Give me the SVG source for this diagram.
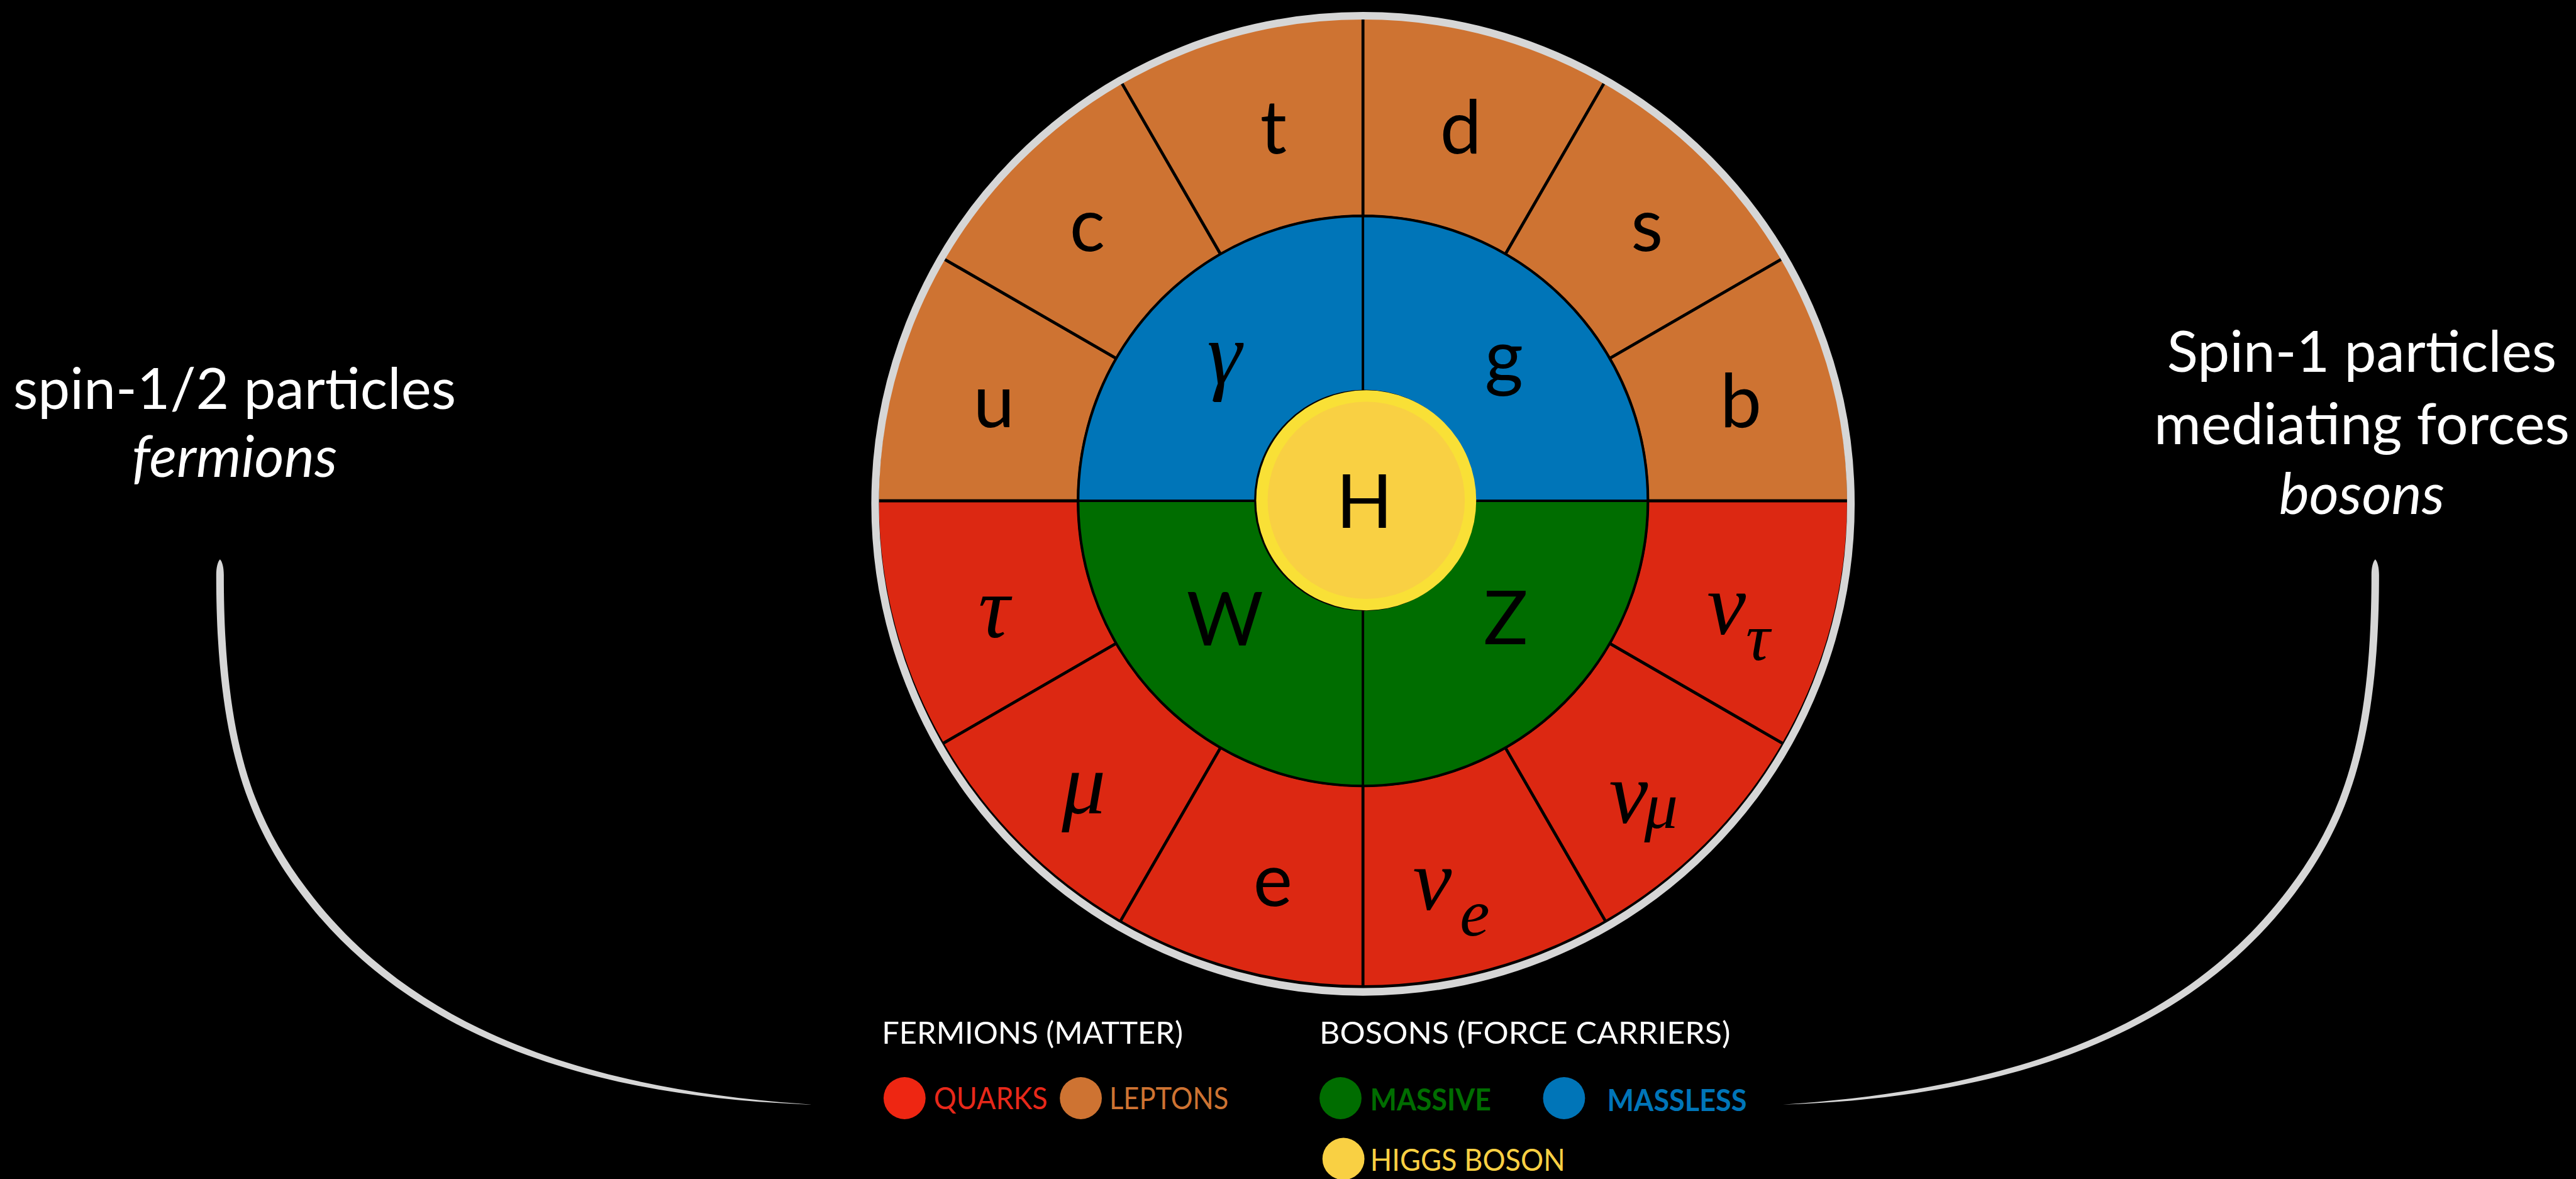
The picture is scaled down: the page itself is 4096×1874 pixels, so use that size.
<svg xmlns="http://www.w3.org/2000/svg" width="4096" height="1874" viewBox="0 0 4096 1874">
<style>
.lat{font-family:Lato,"Open Sans","Liberation Sans",sans-serif;font-size:127px;fill:#000;text-anchor:middle}
.grk{font-family:"Liberation Serif","DejaVu Serif",serif;font-style:italic;font-size:150px;fill:#000;text-anchor:middle}
.nu{font-family:"Liberation Serif","DejaVu Serif",serif;font-style:italic;font-size:150px;fill:#000}
.side{font-family:Lato,"Open Sans","Liberation Sans",sans-serif;font-size:98px;fill:#fff;text-anchor:middle}
.it{font-style:italic}
.leg{font-family:Lato,"Open Sans","Liberation Sans",sans-serif;font-size:52px}
.q{fill:#CE7332;stroke:#000;stroke-width:5}
.l{fill:#DC2812;stroke:#000;stroke-width:5}
.bl{fill:#0075B8;stroke:#000;stroke-width:4}
.gr{fill:#006D00;stroke:#000;stroke-width:4}
.brush{fill:#D6D6D6}
</style>
<rect x="0" y="0" width="4096" height="1874" fill="#000"/>
<g transform="scale(0.92796)">
<g id="connectors">
<path id="curve-left" class="brush" d="M377,958 C373,962 370.5,972 370.5,985 C370.5,1272 424.8,1410 514.8,1530 C706.8,1786 1034.7,1881 1392,1892 C1035.3,1868 717.2,1778 525.2,1522 C435.2,1402 383.5,1272 383.5,985 C383.5,972 381,962 377,958 Z"/>
<path id="curve-right" class="brush" transform="matrix(-1 0 0 1 4447 0)" d="M377,958 C373,962 370.5,972 370.5,985 C370.5,1272 424.8,1410 514.8,1530 C706.8,1786 1034.7,1881 1392,1892 C1035.3,1868 717.2,1778 525.2,1522 C435.2,1402 383.5,1272 383.5,985 C383.5,972 381,962 377,958 Z"/>
</g>
<g id="wheel">
<g id="sector-u"><path class="q" d="M1615,442 A832,832 0 0 0 1503.5,858 L1847.5,858 A488,488 0 0 1 1912.9,614 Z"/><text class="lat" x="1703" y="732">u</text></g>
<g id="sector-c"><path class="q" d="M1919.5,137.5 A832,832 0 0 0 1615,442 L1912.9,614 A488,488 0 0 1 2091.5,435.4 Z"/><text class="lat" x="1863" y="430">c</text></g>
<g id="sector-t"><path class="q" d="M2335.5,26 A832,832 0 0 0 1919.5,137.5 L2091.5,435.4 A488,488 0 0 1 2335.5,370 Z"/><text class="lat" x="2182" y="263">t</text></g>
<g id="sector-d"><path class="q" d="M2751.5,137.5 A832,832 0 0 0 2335.5,26 L2335.5,370 A488,488 0 0 1 2579.5,435.4 Z"/><text class="lat" x="2503" y="263">d</text></g>
<g id="sector-s"><path class="q" d="M3056,442 A832,832 0 0 0 2751.5,137.5 L2579.5,435.4 A488,488 0 0 1 2758.1,614 Z"/><text class="lat" x="2822" y="430">s</text></g>
<g id="sector-b"><path class="q" d="M3167.5,858 A832,832 0 0 0 3056,442 L2758.1,614 A488,488 0 0 1 2823.5,858 Z"/><text class="lat" x="2983" y="732">b</text></g>
<g id="sector-tau"><path class="l" d="M1503.5,858 A832,832 0 0 0 1615,1274 L1912.9,1102 A488,488 0 0 1 1847.5,858 Z"/><text class="grk" x="1703" y="1092">τ</text></g>
<g id="sector-mu"><path class="l" d="M1615,1274 A832,832 0 0 0 1919.5,1578.5 L2091.5,1280.6 A488,488 0 0 1 1912.9,1102 Z"/><text class="grk" x="1857" y="1393">μ</text></g>
<g id="sector-e"><path class="l" d="M1919.5,1578.5 A832,832 0 0 0 2335.5,1690 L2335.5,1346 A488,488 0 0 1 2091.5,1280.6 Z"/><text class="lat" x="2181" y="1552">e</text></g>
<g id="sector-nu-e"><path class="l" d="M2335.5,1690 A832,832 0 0 0 2751.5,1578.5 L2579.5,1280.6 A488,488 0 0 1 2335.5,1346 Z"/><text class="nu" x="2421" y="1558">ν<tspan dx="14" dy="44" font-size="115">e</tspan></text></g>
<g id="sector-nu-mu"><path class="l" d="M2751.5,1578.5 A832,832 0 0 0 3056,1274 L2758.1,1102 A488,488 0 0 1 2579.5,1280.6 Z"/><text class="nu" x="2757" y="1410">ν<tspan dx="-6" dy="8" font-size="115">μ</tspan></text></g>
<g id="sector-nu-tau"><path class="l" d="M3056,1274 A832,832 0 0 0 3167.5,858 L2823.5,858 A488,488 0 0 1 2758.1,1102 Z"/><text class="nu" x="2925" y="1086">ν<tspan dx="0" dy="44" font-size="115">τ</tspan></text></g>
<g id="boson-photon"><path class="bl" d="M2335.5,858 L2335.5,370 A488,488 0 0 0 1847.5,858 Z"/><text class="grk" x="2098" y="656">γ</text></g>
<g id="boson-gluon"><path class="bl" d="M2335.5,858 L2823.5,858 A488,488 0 0 0 2335.5,370 Z"/><text class="lat" x="2577" y="655">g</text></g>
<g id="boson-W"><path class="gr" d="M2335.5,858 L1847.5,858 A488,488 0 0 0 2335.5,1346 Z"/><text class="lat" x="2099" y="1106">W</text></g>
<g id="boson-Z"><path class="gr" d="M2335.5,858 L2335.5,1346 A488,488 0 0 0 2823.5,858 Z"/><text class="lat" x="2580" y="1103">Z</text></g>
<circle id="rim" cx="2335.5" cy="863" r="836" fill="none" stroke="#D6D6D6" stroke-width="13"/>
<g id="higgs">
<circle cx="2338.5" cy="857" r="189.5" fill="#000"/>
<circle cx="2341" cy="857" r="188.5" fill="#F9E036"/>
<circle cx="2341" cy="857" r="169" fill="#F9D043"/>
<text class="lat" x="2338" y="904">H</text>
</g>
</g>
<g id="label-fermions">
<text class="side" x="402" y="700">spin-1/2 particles</text>
<text class="side it" x="402" y="817">fermions</text>
</g>
<g id="label-bosons">
<text class="side" x="4047" y="637">Spin-1 particles</text>
<text class="side" x="4047" y="761">mediating forces</text>
<text class="side it" x="4047" y="880">bosons</text>
</g>
<g id="legend">
<text class="leg" x="1511" y="1788" fill="#fff" textLength="516" lengthAdjust="spacingAndGlyphs">FERMIONS (MATTER)</text>
<text class="leg" x="2261" y="1788" fill="#fff" textLength="704" lengthAdjust="spacingAndGlyphs">BOSONS (FORCE CARRIERS)</text>
<g id="legend-quarks"><circle cx="1550" cy="1881" r="36" fill="#EE2612"/><text class="leg" x="1600" y="1900" fill="#E8281A" font-size="49" textLength="195" lengthAdjust="spacingAndGlyphs">QUARKS</text></g>
<g id="legend-leptons"><circle cx="1852" cy="1881" r="36" fill="#CE7332"/><text class="leg" x="1901" y="1900" fill="#CE7332" font-size="49" textLength="204" lengthAdjust="spacingAndGlyphs">LEPTONS</text></g>
<g id="legend-massive"><circle cx="2297" cy="1881" r="36" fill="#006D00"/><text class="leg" x="2348" y="1902" fill="#006D00" font-size="49" font-weight="bold" textLength="207" lengthAdjust="spacingAndGlyphs">MASSIVE</text></g>
<g id="legend-massless"><circle cx="2680" cy="1881" r="36" fill="#0075B8"/><text class="leg" x="2754" y="1903" fill="#0075B8" font-size="49" font-weight="bold" textLength="239" lengthAdjust="spacingAndGlyphs">MASSLESS</text></g>
<g id="legend-higgs"><circle cx="2302" cy="1985" r="36" fill="#F9D043"/><text class="leg" x="2348" y="2005" fill="#F9D043" font-size="49" textLength="334" lengthAdjust="spacingAndGlyphs">HIGGS BOSON</text></g>
</g>
</g>
</svg>
